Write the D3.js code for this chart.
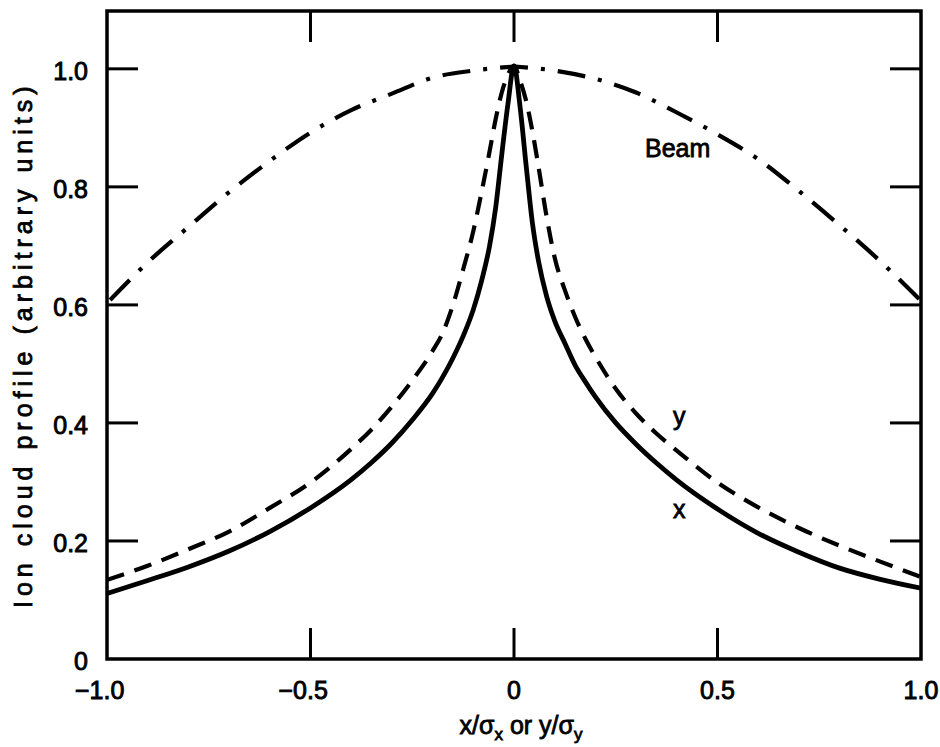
<!DOCTYPE html>
<html><head><meta charset="utf-8">
<script src="https://cdn.jsdelivr.net/npm/d3@7"></script>
<style>
body{margin:0;background:#fff}
text{font-family:"Liberation Sans",Arial,Helvetica,sans-serif;fill:#000}
</style>
</head><body>
<svg id="c" width="940" height="747"></svg>
<script>
// ---- data ----
const xIon = [-1,-0.9,-0.8,-0.7,-0.6,-0.5,-0.4,-0.35,-0.3,-0.25,-0.2,-0.175,-0.15,-0.125,-0.1,-0.08,-0.06,-0.045,-0.03,-0.015,0,
              0.015,0.03,0.045,0.06,0.08,0.1,0.125,0.15,0.175,0.2,0.25,0.3,0.35,0.4,0.5,0.6,0.7,0.8,0.9,1];
const ionXProfile = [0.111,0.133,0.156,0.183,0.216,0.256,0.304,0.333,0.366,0.405,0.450,0.478,0.510,0.547,0.592,0.640,0.700,0.765,0.855,0.940,1.005,
                     0.935,0.835,0.740,0.675,0.615,0.573,0.535,0.498,0.470,0.444,0.400,0.364,0.332,0.303,0.254,0.213,0.181,0.154,0.135,0.120];
const ionYProfile = [0.134,0.158,0.186,0.216,0.256,0.299,0.356,0.389,0.428,0.472,0.522,0.553,0.600,0.660,0.725,0.790,0.860,0.915,0.960,0.990,1.005,
                     0.980,0.945,0.895,0.835,0.750,0.680,0.625,0.580,0.543,0.512,0.458,0.416,0.382,0.353,0.299,0.257,0.222,0.192,0.165,0.139];
const xBeam = [-1,-0.9,-0.8,-0.7,-0.6,-0.5,-0.4,-0.3,-0.2,-0.1,0,0.1,0.2,0.3,0.4,0.5,0.6,0.7,0.8,0.9,1];
const beamProfile = [0.603,0.672,0.732,0.791,0.844,0.892,0.930,0.958,0.985,0.997,1.004,
                     0.997,0.983,0.960,0.926,0.889,0.847,0.793,0.735,0.674,0.607];
const xTicks = [-1,-0.5,0,0.5,1];
const xTickLabels = ["\u22121.0","\u22120.5","0","0.5","1.0"];
const yTicks = [0,0.2,0.4,0.6,0.8,1.0];
const yTickLabels = ["0","0.2","0.4","0.6","0.8","1.0"];
const innerXTicks = [-0.5,0,0.5];
const innerYTicks = [0.2,0.4,0.6,0.8,1.0];

// ---- layout ----
const L=107, R=921, T=11, B=659;
const svg = d3.select("#c");
const x = d3.scaleLinear().domain([-1,1]).range([L,R]);
const y = d3.scaleLinear().domain([0,1.098]).range([B,T]);
const TL = 31;
const FS = 25;

svg.append("defs").append("clipPath").attr("id","pc")
  .append("rect").attr("x",L).attr("y",T).attr("width",R-L).attr("height",B-T);

// inner ticks
const tk = svg.append("g").attr("stroke","#000").attr("stroke-width",3);
innerYTicks.forEach(v=>{
  tk.append("line").attr("x1",L).attr("x2",L+TL).attr("y1",y(v)).attr("y2",y(v));
  tk.append("line").attr("x1",R-TL).attr("x2",R).attr("y1",y(v)).attr("y2",y(v));
});
innerXTicks.forEach(v=>{
  tk.append("line").attr("x1",x(v)).attr("x2",x(v)).attr("y1",B).attr("y2",B-TL);
  tk.append("line").attr("x1",x(v)).attr("x2",x(v)).attr("y1",T).attr("y2",T+TL);
});
// frame
svg.append("rect").attr("x",L).attr("y",T).attr("width",R-L).attr("height",B-T)
  .attr("fill","none").attr("stroke","#000").attr("stroke-width",3.5);

// tick labels
const lab = svg.append("g").attr("font-size",FS).attr("stroke","#000").attr("stroke-width",0.9);
yTicks.forEach((v,i)=>{
  lab.append("text").attr("x",88).attr("y",y(v)+11).attr("text-anchor","end").text(yTickLabels[i]);
});
const probe = svg.append("text").attr("font-size",FS).text("\u2212");
const minusW = probe.node().getComputedTextLength();
probe.remove();
xTicks.forEach((v,i)=>{
  const neg = xTickLabels[i].startsWith("\u2212");
  lab.append("text").attr("x",x(v) - (neg?minusW/2:0)).attr("y",699)
    .attr("text-anchor","middle").text(xTickLabels[i]);
});

// axis titles
const xt = svg.append("text").attr("x",521).attr("y",734).attr("text-anchor","middle")
  .attr("font-size",FS).attr("stroke","#000").attr("stroke-width",0.8);
xt.append("tspan").text("x/\u03c3");
xt.append("tspan").attr("font-size",17).attr("dy",6).text("x");
xt.append("tspan").attr("dy",-6).text(" or y/\u03c3");
xt.append("tspan").attr("font-size",17).attr("dy",6).text("y");

svg.append("text").attr("transform","translate(32,608) rotate(-90)")
  .attr("text-anchor","start").attr("font-size",FS).attr("letter-spacing",5)
  .attr("stroke","#000").attr("stroke-width",0.8)
  .text("Ion cloud profile  (arbitrary units)");

// curves
const plot = svg.append("g").attr("clip-path","url(#pc)").attr("fill","none").attr("stroke","#000");
const line = d3.line().x(d=>x(d[0])).y(d=>y(d[1])).curve(d3.curveMonotoneX);
const solid = xIon.map((v,i)=>[v,ionXProfile[i]]);
const dashed = xIon.map((v,i)=>[v,ionYProfile[i]]);
plot.append("path").attr("d",line(dashed)).attr("stroke-width",4.2).attr("stroke-dasharray","18,11");
plot.append("path").attr("d",line(solid)).attr("stroke-width",4.8);
// beam: drawn outward from the peak so a dash sits centred on x = 0
const beamPts = xBeam.map((v,i)=>[v,beamProfile[i]]);
const leftHalf = beamPts.filter(d=>d[0]<=0).reverse().map(d=>[-d[0],d[1]]);
const rightHalf = beamPts.filter(d=>d[0]>=0);
plot.append("path").attr("d",line(leftHalf)).attr("transform",`translate(${2*x(0)},0) scale(-1,1)`)
  .attr("stroke-width",4.2).attr("stroke-dasharray","28,13,4,13").attr("stroke-dashoffset",14);
plot.append("path").attr("d",line(rightHalf))
  .attr("stroke-width",4.2).attr("stroke-dasharray","28,13,4,13").attr("stroke-dashoffset",14);

// curve labels
const cl = svg.append("g").attr("font-size",FS).attr("stroke","#000").attr("stroke-width",0.8);
cl.append("text").attr("x",645).attr("y",157).text("Beam");
cl.append("text").attr("x",673).attr("y",425).text("y");
cl.append("text").attr("x",673).attr("y",518).text("x");
</script>
</body></html>
